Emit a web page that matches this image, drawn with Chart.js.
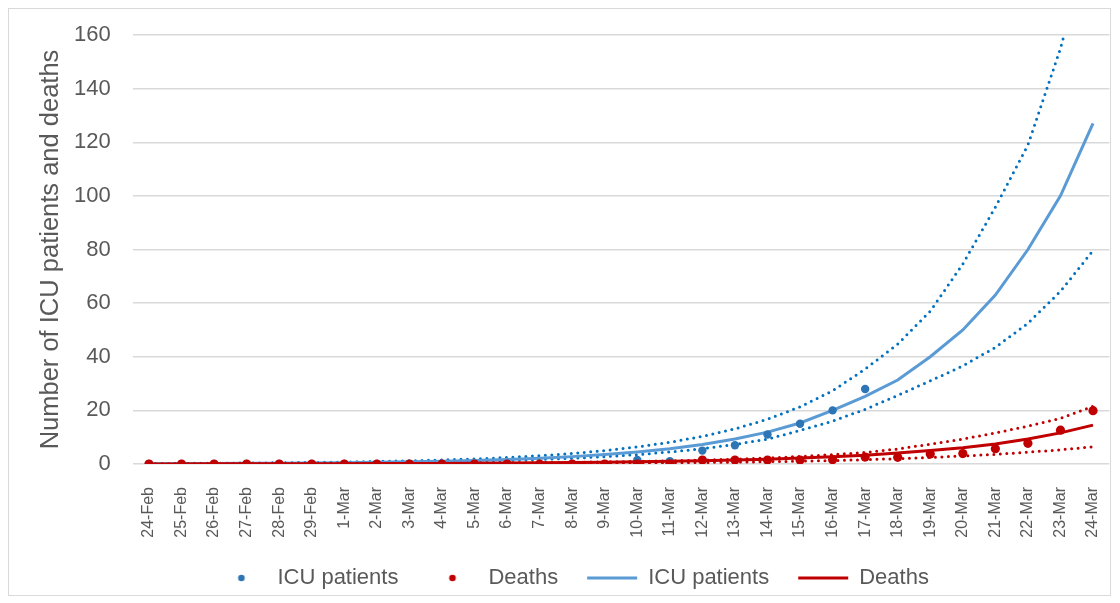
<!DOCTYPE html>
<html>
<head>
<meta charset="utf-8">
<script src="https://cdn.jsdelivr.net/npm/chart.js@4.4.1/dist/chart.umd.min.js"></script>
<style>
  html, body { margin: 0; padding: 0; background: #ffffff; }
  #wrap { position: relative; width: 1120px; height: 603px; }
  #frame { position: absolute; left: 8px; top: 8px; width: 1103px; height: 588px; border: 1px solid #d9d9d9; box-sizing: border-box; pointer-events: none; }
  canvas { display: block; }
</style>
</head>
<body>
<div id="wrap">
  <canvas id="c" width="1120" height="603"></canvas>
  <div id="frame"></div>
</div>
<script>
// ---- data ----
const categories = ['24-Feb','25-Feb','26-Feb','27-Feb','28-Feb','29-Feb',
  '1-Mar','2-Mar','3-Mar','4-Mar','5-Mar','6-Mar','7-Mar','8-Mar','9-Mar','10-Mar',
  '11-Mar','12-Mar','13-Mar','14-Mar','15-Mar','16-Mar','17-Mar','18-Mar','19-Mar',
  '20-Mar','21-Mar','22-Mar','23-Mar','24-Mar'];

const icuObserved = [0,0,0,0,0,0,0,0,0,0,0,0,0,0,0,1.5,1,5,7,11,15,20,28,
  null,null,null,null,null,null,null];
const deathsObserved = [0,0,0,0,0,0,0,0,0,0,0,0,0,0,0,0,0,
  1.5,1.5,1.5,1.5,1.6,2.6,2.5,3.7,3.9,5.7,7.7,12.6,19.9];

const icuModel = [0.12,0.15,0.19,0.24,0.3,0.39,0.5,0.63,0.8,1.03,1.3,1.7,2.15,2.75,3.5,
  4.5,5.7,7.3,9.3,11.9,15.3,20,25.2,31.3,40,50,63,80,100,127];
const icuUpper = [0.17,0.22,0.28,0.35,0.45,0.57,0.73,0.93,1.2,1.5,1.9,2.4,3.1,3.9,5.0,
  6.4,8.1,10.3,13.1,16.7,21.3,27.3,35.4,44.7,57,74.6,95.8,119,155,200];
const icuLower = [0.09,0.12,0.15,0.19,0.24,0.3,0.39,0.5,0.63,0.8,1.03,1.3,1.7,2.15,2.75,
  3.5,4.5,5.7,7.3,9.3,12.5,16,20.4,25.6,31,36.6,43.5,52.5,64.4,79.6];

const deathsModel = [0.035,0.04,0.05,0.065,0.08,0.1,0.12,0.15,0.19,0.23,0.28,0.35,0.43,0.53,0.65,
  0.8,1.0,1.2,1.5,1.8,2.2,2.7,3.3,4.1,5.0,6.1,7.5,9.3,11.6,14.5];
const deathsUpper = [0.04,0.05,0.06,0.075,0.09,0.115,0.14,0.18,0.22,0.27,0.33,0.4,0.5,0.62,0.77,
  0.95,1.17,1.45,1.8,2.25,2.8,3.5,4.3,5.6,7.4,9.3,11.6,14.1,17.0,21.5];
const deathsLower = [0.017,0.021,0.026,0.032,0.039,0.048,0.06,0.073,0.09,0.11,0.135,0.165,0.2,0.25,0.31,
  0.38,0.46,0.57,0.7,0.86,1.05,1.3,1.6,2.0,2.45,3.0,3.6,4.4,5.3,6.4];

const yTicks = [0,20,40,60,80,100,120,140,160];
const seriesNames = ['ICU patients','Deaths'];

// ---- styling ----
const BLUE_PT = '#2E75B6', BLUE_LINE = '#5B9BD5', BLUE_DOT = '#0070C0';
const RED = '#C00000';
const GREY_TXT = '#595959';
const FONT = "'Liberation Sans', Arial, sans-serif";

function dotImage(color) {
  const c = document.createElement('canvas');
  c.width = 10; c.height = 10;
  const x = c.getContext('2d');
  x.fillStyle = color;
  x.beginPath(); x.arc(5, 5, 3.3, 0, Math.PI * 2); x.fill();
  return c;
}

const dotted = (data, color, order) => ({
  label: '', data, borderColor: color, backgroundColor: color,
  borderWidth: 3, borderDash: [0, 6.5], borderCapStyle: 'round',
  pointRadius: 0, tension: 0, fill: false, order
});

const chart = new Chart(document.getElementById('c'), {
  type: 'line',
  data: {
    labels: categories,
    datasets: [
      { label: seriesNames[0], data: icuObserved, showLine: false, pointRadius: 4.2,
        pointBackgroundColor: BLUE_PT, pointBorderColor: BLUE_PT, borderColor: BLUE_PT,
        backgroundColor: BLUE_PT, pointBorderWidth: 0, order: 3 },
      { label: seriesNames[1], data: deathsObserved, showLine: false, pointRadius: 4.6,
        pointBackgroundColor: RED, pointBorderColor: RED, borderColor: RED,
        backgroundColor: RED, pointBorderWidth: 0, order: 0 },
      { label: seriesNames[0], data: icuModel, borderColor: BLUE_LINE, backgroundColor: BLUE_LINE,
        borderWidth: 3, pointRadius: 0, tension: 0, fill: false, order: 4 },
      { label: seriesNames[1], data: deathsModel, borderColor: RED, backgroundColor: RED,
        borderWidth: 3, pointRadius: 0, tension: 0, fill: false, order: 1 },
      dotted(icuUpper, BLUE_DOT, 5),
      dotted(icuLower, BLUE_DOT, 5),
      dotted(deathsUpper, RED, 2),
      dotted(deathsLower, RED, 2)
    ]
  },
  options: {
    responsive: false,
    animation: false,
    events: [],
    layout: { padding: { left: 36, right: 10.7, top: 35, bottom: 4 } },
    plugins: {
      tooltip: { enabled: false },
      legend: {
        position: 'bottom',
        labels: {
          usePointStyle: true,
          pointStyleWidth: 50,
          padding: 29,
          color: GREY_TXT,
          font: { family: FONT, size: 22 },
          generateLabels(ch) {
            const items = Chart.defaults.plugins.legend.labels.generateLabels(ch);
            return items.filter(it => it.datasetIndex < 4)
              .sort((a, b) => a.datasetIndex - b.datasetIndex)
              .map(it => {
                if (it.datasetIndex === 0) { it.pointStyle = dotImage(BLUE_PT); }
                else if (it.datasetIndex === 1) { it.pointStyle = dotImage(RED); }
                else {
                  it.pointStyle = 'line';
                  it.lineWidth = 3;
                  it.strokeStyle = it.datasetIndex === 2 ? BLUE_LINE : RED;
                }
                return it;
              });
          }
        }
      }
    },
    scales: {
      x: {
        offset: true,
        grid: { display: false, drawTicks: false, offset: true },
        border: { display: false },
        ticks: { autoSkip: false, minRotation: 90, maxRotation: 90, padding: 23,
          color: GREY_TXT, font: { family: FONT, size: 16 } },
        afterFit(scale) { scale.height = 74; scale.paddingLeft = 0; scale.paddingRight = 0; }
      },
      y: {
        min: 0, max: 160,
        afterBuildTicks(scale) { scale.ticks = yTicks.map(v => ({ value: v })); },
        grid: { color: '#D9D9D9', lineWidth: 1.5, drawTicks: false },
        border: { display: false },
        ticks: { padding: 22, color: GREY_TXT, font: { family: FONT, size: 22 } },
        title: { display: true, text: 'Number of ICU patients and deaths', color: GREY_TXT,
          font: { family: FONT, size: 25.5 }, padding: { top: 0, bottom: 0 } },
        afterFit(scale) { scale.width = 96.7; scale.paddingTop = 0; scale.paddingBottom = 0; }
      }
    }
  }
});
</script>
</body>
</html>
